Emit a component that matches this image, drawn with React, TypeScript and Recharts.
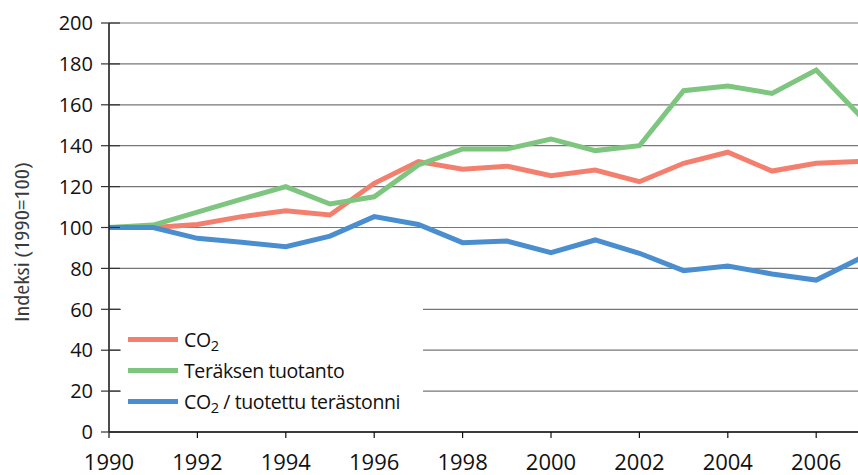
import React from 'react';
import { LineChart, Line, XAxis, YAxis, CartesianGrid, Legend } from 'recharts';

const years = [1990, 1991, 1992, 1993, 1994, 1995, 1996, 1997, 1998, 1999, 2000, 2001, 2002, 2003, 2004, 2005, 2006, 2007];
const co2 = [100, 100, 101.5, 105.3, 108.2, 106.1, 121.6, 132.2, 128.5, 130, 125.3, 128.1, 122.4, 131.4, 136.8, 127.6, 131.4, 132.3];
const steel = [100, 101.2, 107.5, 113.9, 120, 111.5, 115, 130.6, 138.4, 138.4, 143.3, 137.6, 140, 166.9, 169.2, 165.6, 177, 154.5];
const intensity = [100, 100, 94.7, 92.8, 90.6, 95.8, 105.3, 101.5, 92.6, 93.4, 87.7, 93.9, 87.4, 78.9, 81.2, 77.3, 74.3, 85];
const xTicks = [1990, 1992, 1994, 1996, 1998, 2000, 2002, 2004, 2006];
const yTicks = [0, 20, 40, 60, 80, 100, 120, 140, 160, 180, 200];

const seriesNames = ['CO2', 'Teräksen tuotanto', 'CO2 / tuotettu terästonni'];
const colors = ['#F3806F', '#7EC680', '#4A8ECF'];

const data = years.map((y, i) => ({ year: y, co2: co2[i], steel: steel[i], intensity: intensity[i] }));

const FONT = "'Open Sans', 'DejaVu Sans Condensed', sans-serif";
const STRETCH = '88%';
const AXIS_X = 109;

const YTick = (props: any) => {
  const { y, payload } = props;
  return (
    <g>
      <line x1={AXIS_X - 8} x2={AXIS_X + 11} y1={y} y2={y} stroke="#333" strokeWidth={1.2} />
      <text x={AXIS_X - 16} y={y} dy="0.36em" textAnchor="end" fontSize={20} fontFamily={FONT} style={{ fontStretch: STRETCH }} fill="#111">
        {payload.value}
      </text>
    </g>
  );
};

const XTick = (props: any) => {
  const { x, payload } = props;
  return (
    <text x={x} y={470} textAnchor="middle" fontSize={22} fontFamily={FONT} style={{ fontStretch: STRETCH }} fill="#111">
      {payload.value}
    </text>
  );
};

const Sub2 = (label: string) => {
  if (label.startsWith('CO2')) {
    return (
      <span>
        CO<sub style={{ fontSize: '0.75em', verticalAlign: '-0.3em', lineHeight: 0 }}>2</sub>
        {label.slice(3)}
      </span>
    );
  }
  return <span>{label}</span>;
};

const renderLegend = () => (
  <div style={{ background: '#fff', width: 302, height: 130, paddingTop: 28, boxSizing: 'border-box' }}>
    {seriesNames.map((n, i) => (
      <div key={n} style={{ display: 'flex', alignItems: 'center', height: 31 }}>
        <div style={{ width: 50, height: 5, background: colors[i], marginLeft: 7, marginRight: 6 }} />
        <div style={{ fontFamily: FONT, fontStretch: STRETCH, fontSize: 19.5, letterSpacing: '-0.4px', color: '#111', lineHeight: '21px', whiteSpace: 'nowrap' }}>{Sub2(n)}</div>
      </div>
    ))}
  </div>
);

export default function App() {
  return (
    <div style={{ position: 'absolute', left: 0, top: 0, width: 858, height: 475, overflow: 'hidden', background: '#fff' }}>
      <LineChart width={870} height={475} data={data} margin={{ top: 23, right: 9.6, bottom: 0, left: 0 }}>
        <CartesianGrid horizontal vertical={false} stroke="#777" strokeWidth={1.2} />
        <XAxis
          dataKey="year"
          type="number"
          domain={[1990, 2007]}
          ticks={xTicks}
          interval={0}
          height={43}
          tickSize={6}
          tickLine={{ stroke: '#111', strokeWidth: 1.2 }}
          axisLine={{ stroke: '#111', strokeWidth: 1.5 }}
          tick={<XTick />}
        />
        <YAxis
          type="number"
          domain={[0, 200]}
          ticks={yTicks}
          interval={0}
          width={109}
          tickLine={false}
          axisLine={{ stroke: '#111', strokeWidth: 1.5 }}
          tick={<YTick />}
          label={{
            content: () => (
              <text
                x={22}
                y={242}
                transform="rotate(-90 22 242)"
                textAnchor="middle"
                dominantBaseline="central"
                fontSize={19}
                fontWeight={400}
                fontFamily={FONT}
                style={{ fontStretch: '75%' }}
                textLength={160}
                lengthAdjust="spacingAndGlyphs"
                fill="#3a3a3a"
              >
                Indeksi (1990=100)
              </text>
            ),
          }}
        />
        <Legend
          layout="vertical"
          align="center"
          verticalAlign="middle"
          content={renderLegend}
          wrapperStyle={{ left: 121, top: 296, width: 302, height: 130 }}
        />
        <Line dataKey="co2" name={seriesNames[0]} stroke={colors[0]} strokeWidth={5} dot={false} isAnimationActive={false} />
        <Line dataKey="steel" name={seriesNames[1]} stroke={colors[1]} strokeWidth={5} dot={false} isAnimationActive={false} />
        <Line dataKey="intensity" name={seriesNames[2]} stroke={colors[2]} strokeWidth={5} dot={false} isAnimationActive={false} />
      </LineChart>
    </div>
  );
}
